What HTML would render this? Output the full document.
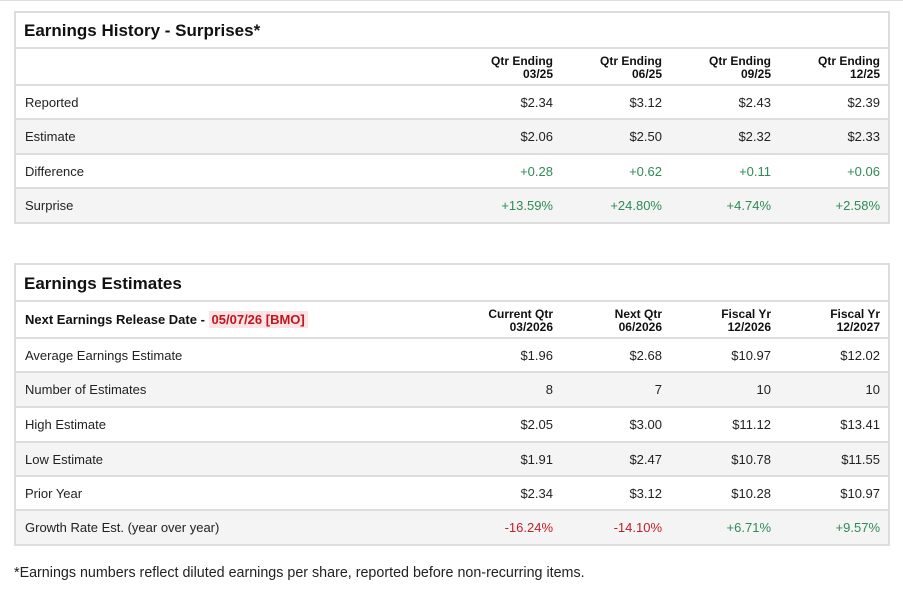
<!DOCTYPE html>
<html><head><meta charset="utf-8"><style>
*{margin:0;padding:0;box-sizing:border-box}
body{width:903px;height:592px;background:#fff;font-family:"Liberation Sans",Arial,sans-serif;color:#222;position:relative;overflow:hidden}
.topline{position:absolute;left:0;top:0;width:903px;height:1px;background:#ddd}
.box{position:absolute;left:14px;width:876px;border:2px solid #ddd}
.row{position:absolute;left:0;width:872px;border-top:2px solid #ddd}
.g{background:#f4f4f4}
.t{position:absolute;left:8px;font-size:17px;font-weight:bold;color:#111}
.l{position:absolute;left:9px;font-size:13px;color:#222}
.v{position:absolute;font-size:13px;text-align:right;width:100px}
.h{position:absolute;font-size:12px;font-weight:bold;text-align:right;width:100px;line-height:13px;color:#111}
.gr{color:#2e8b57}.rd{color:#c0202a}
</style></head><body>
<div class="topline"></div>

<div class="box" style="top:11px;height:213px">
 <div class="t" style="top:8px">Earnings History - Surprises*</div>
 <div class="row" style="top:34px;height:37px">
  <div class="h" style="left:437px;top:6px">Qtr Ending<br>03/25</div>
  <div class="h" style="left:546px;top:6px">Qtr Ending<br>06/25</div>
  <div class="h" style="left:655px;top:6px">Qtr Ending<br>09/25</div>
  <div class="h" style="left:764px;top:6px">Qtr Ending<br>12/25</div>
 </div>
 <div class="row" style="top:71px;height:35px"><div class="l" style="top:9px">Reported</div>
  <div class="v" style="left:437px;top:9px">$2.34</div><div class="v" style="left:546px;top:9px">$3.12</div><div class="v" style="left:655px;top:9px">$2.43</div><div class="v" style="left:764px;top:9px">$2.39</div></div>
 <div class="row g" style="top:105px;height:35px"><div class="l" style="top:9px">Estimate</div>
  <div class="v" style="left:437px;top:9px">$2.06</div><div class="v" style="left:546px;top:9px">$2.50</div><div class="v" style="left:655px;top:9px">$2.32</div><div class="v" style="left:764px;top:9px">$2.33</div></div>
 <div class="row" style="top:140px;height:35px"><div class="l" style="top:9px">Difference</div>
  <div class="v gr" style="left:437px;top:9px">+0.28</div><div class="v gr" style="left:546px;top:9px">+0.62</div><div class="v gr" style="left:655px;top:9px">+0.11</div><div class="v gr" style="left:764px;top:9px">+0.06</div></div>
 <div class="row g" style="top:174px;height:35px"><div class="l" style="top:9px">Surprise</div>
  <div class="v gr" style="left:437px;top:9px">+13.59%</div><div class="v gr" style="left:546px;top:9px">+24.80%</div><div class="v gr" style="left:655px;top:9px">+4.74%</div><div class="v gr" style="left:764px;top:9px">+2.58%</div></div>
</div>

<div class="box" style="top:263px;height:283px">
 <div class="t" style="top:9px">Earnings Estimates</div>
 <div class="row" style="top:35px;height:37px">
  <div style="position:absolute;left:9px;top:10px;font-size:13px;font-weight:bold;color:#111">Next Earnings Release Date - <span style="background:#fde3e3;color:#c0151f;padding:1px 3px">05/07/26 [BMO]</span></div>
  <div class="h" style="left:437px;top:6px">Current Qtr<br>03/2026</div>
  <div class="h" style="left:546px;top:6px">Next Qtr<br>06/2026</div>
  <div class="h" style="left:655px;top:6px">Fiscal Yr<br>12/2026</div>
  <div class="h" style="left:764px;top:6px">Fiscal Yr<br>12/2027</div>
 </div>
 <div class="row" style="top:72px;height:35px"><div class="l" style="top:9px">Average Earnings Estimate</div>
  <div class="v" style="left:437px;top:9px">$1.96</div><div class="v" style="left:546px;top:9px">$2.68</div><div class="v" style="left:655px;top:9px">$10.97</div><div class="v" style="left:764px;top:9px">$12.02</div></div>
 <div class="row g" style="top:106px;height:35px"><div class="l" style="top:9px">Number of Estimates</div>
  <div class="v" style="left:437px;top:9px">8</div><div class="v" style="left:546px;top:9px">7</div><div class="v" style="left:655px;top:9px">10</div><div class="v" style="left:764px;top:9px">10</div></div>
 <div class="row" style="top:141px;height:35px"><div class="l" style="top:9px">High Estimate</div>
  <div class="v" style="left:437px;top:9px">$2.05</div><div class="v" style="left:546px;top:9px">$3.00</div><div class="v" style="left:655px;top:9px">$11.12</div><div class="v" style="left:764px;top:9px">$13.41</div></div>
 <div class="row g" style="top:176px;height:35px"><div class="l" style="top:9px">Low Estimate</div>
  <div class="v" style="left:437px;top:9px">$1.91</div><div class="v" style="left:546px;top:9px">$2.47</div><div class="v" style="left:655px;top:9px">$10.78</div><div class="v" style="left:764px;top:9px">$11.55</div></div>
 <div class="row" style="top:210px;height:35px"><div class="l" style="top:9px">Prior Year</div>
  <div class="v" style="left:437px;top:9px">$2.34</div><div class="v" style="left:546px;top:9px">$3.12</div><div class="v" style="left:655px;top:9px">$10.28</div><div class="v" style="left:764px;top:9px">$10.97</div></div>
 <div class="row g" style="top:244px;height:35px"><div class="l" style="top:9px">Growth Rate Est. (year over year)</div>
  <div class="v rd" style="left:437px;top:9px">-16.24%</div><div class="v rd" style="left:546px;top:9px">-14.10%</div><div class="v gr" style="left:655px;top:9px">+6.71%</div><div class="v gr" style="left:764px;top:9px">+9.57%</div></div>
</div>

<div style="position:absolute;left:14px;top:565px;font-size:14.3px;color:#222">*Earnings numbers reflect diluted earnings per share, reported before non-recurring items.</div>
</body></html>
